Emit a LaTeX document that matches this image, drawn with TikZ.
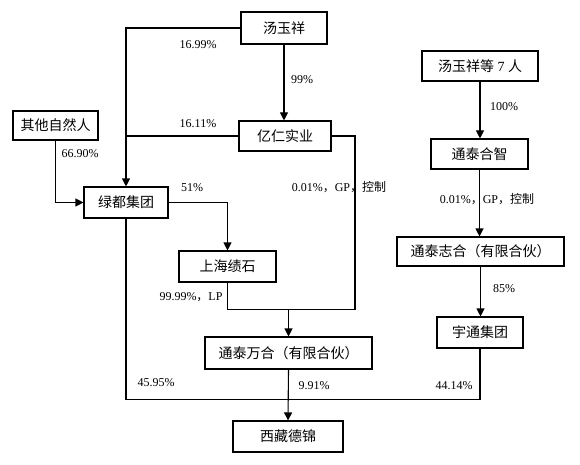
\documentclass[tikz,border=0pt]{standalone}
\usepackage{fontspec}
\setmainfont{Liberation Serif}
\newfontfamily\cjk{Noto Sans CJK SC}
\usetikzlibrary{arrows.meta}
\begin{document}
\begin{tikzpicture}[x=1pt,y=-1pt,
  box/.style={draw,line width=1.1pt,inner sep=0pt,font=\fontsize{14}{16}\selectfont\cjk},
  lbl/.style={font=\fontsize{12}{14}\selectfont,inner sep=0pt},
  ln/.style={line width=1.1pt},
  arr/.style={line width=1.1pt,-{Triangle[length=8pt,width=8pt]}}]
\useasboundingbox (0,0) rectangle (580,465);
\node[box,minimum width=86pt,minimum height=32pt] (tyx) at (284,28) {汤玉祥};
\node[box,minimum width=85pt,minimum height=29pt] (qt) at (55.5,125.5) {其他自然人};
\node[box,minimum width=92pt,minimum height=30pt] (yr) at (285,136) {亿仁实业};
\node[box,minimum width=84pt,minimum height=31pt] (ld) at (126,202.5) {绿都集团};
\node[box,minimum width=116pt,minimum height=30pt] (t7) at (480,66) {汤玉祥等{\rmfamily\ 7\ }人};
\node[box,minimum width=97pt,minimum height=30pt] (thz) at (479.5,154) {通泰合智};
\node[box,minimum width=97pt,minimum height=31pt] (sh) at (227.5,266.5) {上海绩石};
\node[box,minimum width=167pt,minimum height=32pt] (twh) at (288.5,353) {通泰万合（有限合伙）};
\node[box,minimum width=110pt,minimum height=31pt] (xz) at (288,436.5) {西藏德锦};
\node[box,minimum width=167pt,minimum height=29pt] (tzh) at (480.5,251.5) {通泰志合（有限合伙）};
\node[box,minimum width=86pt,minimum height=31pt] (yt) at (480,332.5) {宇通集团};

\coordinate (c1) at (355,309.5);
\coordinate (m1) at (288.5,309.5);
\coordinate (m2) at (288.5,399.5);

\draw[arr] (tyx.west) -| (ld.north);
\draw[ln] (yr.west) -- (yr.west -| ld.north);
\draw[arr] (tyx.south) -- (tyx.south |- yr.north);
\draw[arr] (qt.south) |- (ld.west);
\draw[arr] (ld.east) -| (sh.north);
\draw[ln] (yr.east) -| (c1) -- (m1);
\draw[ln] (sh.south) |- (m1);
\draw[arr] (m1) -- (twh.north);
\draw[arr] (twh.south) -- (xz.north);
\draw[ln] (ld.south) |- (m2);
\draw[ln] (yt.south) |- (m2);
\draw[arr] (t7.south) -- (t7.south |- thz.north);
\draw[arr] (thz.south) -- (thz.south |- tzh.north);
\draw[arr] (tzh.south) -- (tzh.south |- yt.north);

\node[lbl] (l1) at (198,45) {16.99\%};
\node[lbl] (l2) at (198,124) {16.11\%};
\node[lbl] (l3) at (80,154) {66.90\%};
\node[lbl] (l4) at (192,188) {51\%};
\node[lbl] (l5) at (302,80) {99\%};
\node[lbl] (l6) at (339,187) {0.01\%{\cjk ，}GP{\cjk ，控制}};
\node[lbl] (l7) at (504,107) {100\%};
\node[lbl] (l8) at (487,199) {0.01\%{\cjk ，}GP{\cjk ，控制}};
\node[lbl] (l9) at (504,289) {85\%};
\node[lbl] (l10) at (191,297) {99.99\%{\cjk ，}LP};
\node[lbl] (l11) at (156,383) {45.95\%};
\node[lbl] (l12) at (314,386) {9.91\%};
\node[lbl] (l13) at (454,386) {44.14\%};
\end{tikzpicture}
\end{document}
